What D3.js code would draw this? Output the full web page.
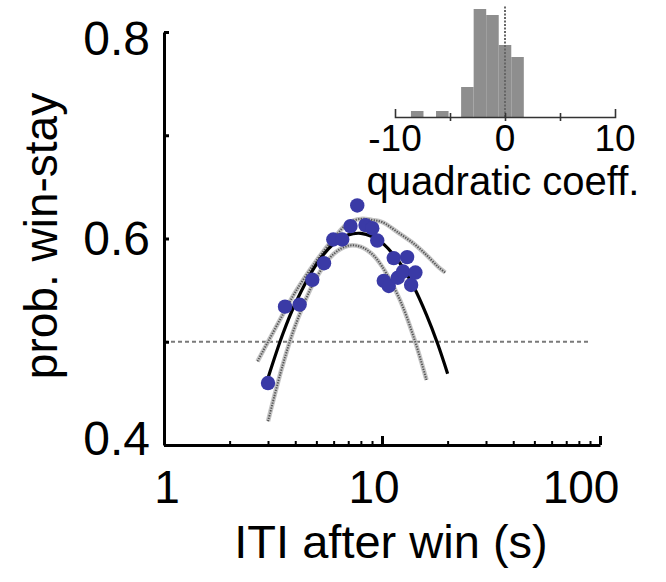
<!DOCTYPE html>
<html>
<head>
<meta charset="utf-8">
<script src="https://cdn.jsdelivr.net/npm/d3@7"></script>
<style>
  body { margin: 0; background: #fff; }
  svg text { font-family: "Liberation Sans", Arial, Helvetica, sans-serif; fill: #000; }
</style>
</head>
<body>
<div id="chart"></div>
<script>
'use strict';

// mean win-stay per ITI bin
var itiSec  = [3.00, 3.59, 4.19, 4.79, 5.42, 5.98, 6.57, 7.17, 7.70, 8.40,
               9.02, 9.51, 10.19, 10.74, 11.32, 11.81, 12.50, 13.04, 13.60, 14.23];
var winStay = [0.460, 0.534, 0.536, 0.560, 0.576, 0.599, 0.599, 0.612, 0.632, 0.613,
               0.610, 0.598, 0.559, 0.554, 0.581, 0.562, 0.568, 0.582, 0.555, 0.567];

// quadratic fit (black) and its bounds (grey)
var fitIti   = [3.0, 3.5, 4, 5, 6, 7, 8, 9, 10, 12, 14, 16, 18, 20];
var fitMid   = [0.465, 0.507, 0.537, 0.575, 0.595, 0.6035, 0.605, 0.602, 0.596, 0.577, 0.553, 0.526, 0.498, 0.469];
var upperIti = [2.685, 3.0, 3.5, 4, 5, 6, 7, 8, 9, 10, 12, 14, 16, 18, 19.5];
var upperFit = [0.481, 0.500, 0.526, 0.548, 0.5785, 0.600, 0.615, 0.619, 0.618, 0.616, 0.605, 0.595, 0.584, 0.573, 0.567];
var lowerIti = [3.0, 3.5, 4, 5, 6, 7, 8, 9, 10, 12, 14, 16];
var lowerFit = [0.423, 0.477, 0.5155, 0.562, 0.585, 0.593, 0.592, 0.585, 0.573, 0.542, 0.504, 0.463];

var chanceLevel = 0.5;
var chanceIti = [1, 90];

var xTicks = [1, 10, 100];
var xMinorTicks = [2, 3, 4, 5, 6, 7, 8, 9, 20, 30, 40, 50, 60, 70, 80, 90];
var yTicks = [0.4, 0.5, 0.6, 0.7, 0.8];
var yTickLabels = [0.4, 0.6, 0.8];

// inset: histogram of quadratic coefficients across subjects
var coeffBins   = [-7.98, -6.84, -5.70, -4.56, -3.42, -2.28, -1.14, 0, 1.14];
var coeffCounts = [1, 0, 1, 0, 5, 18, 17, 12, 10];
var binWidth = 1.14;
var insetTicks = [-10, -5, 0, 5, 10];
var insetTickLabels = [-10, 0, 10];

var width = 666, height = 582;

var svg = d3.select('#chart').append('svg')
  .attr('width', width)
  .attr('height', height);

var x = d3.scaleLog().domain([1, 100]).range([164, 600]);
var y = d3.scaleLinear().domain([0.4, 0.8]).range([445, 32]);
// label positions in the figure sit a bit inside the tick positions
var xLab = d3.scaleLog().domain([1, 100]).range([167, 581]);
var yLab = d3.scaleLinear().domain([0.4, 0.8]).range([438, 37.5]);

// chance line
svg.append('line')
  .attr('x1', x(chanceIti[0])).attr('x2', x(chanceIti[1]))
  .attr('y1', y(chanceLevel)).attr('y2', y(chanceLevel))
  .attr('stroke', '#7a7a7a').attr('stroke-width', 2)
  .attr('stroke-dasharray', '4,3');

var line = d3.line()
  .x(function (d) { return x(d[0]); })
  .y(function (d) { return y(d[1]); })
  .curve(d3.curveCatmullRom);

function drawBound(xs, ys) {
  var pts = d3.zip(xs, ys);
  svg.append('path').datum(pts)
    .attr('d', line).attr('fill', 'none')
    .attr('stroke', '#c4c4c4').attr('stroke-width', 4.5);
  svg.append('path').datum(pts)
    .attr('d', line).attr('fill', 'none')
    .attr('stroke', '#555').attr('stroke-width', 2)
    .attr('stroke-dasharray', '1.3,1.3');
}
drawBound(upperIti, upperFit);
drawBound(lowerIti, lowerFit);

svg.append('path').datum(d3.zip(fitIti, fitMid))
  .attr('d', line).attr('fill', 'none')
  .attr('stroke', '#000').attr('stroke-width', 3.2);

svg.append('g').selectAll('circle')
  .data(d3.zip(itiSec, winStay))
  .enter().append('circle')
  .attr('cx', function (d) { return x(d[0]); })
  .attr('cy', function (d) { return y(d[1]); })
  .attr('r', 7.2)
  .attr('fill', '#3a3aa6');

// axes
var xAxis = svg.append('g')
  .attr('transform', 'translate(0,' + y(0.4) + ')')
  .call(d3.axisBottom(x).tickValues(xTicks).tickSizeInner(-9).tickSizeOuter(0).tickFormat(''));
var xMinor = svg.append('g')
  .attr('transform', 'translate(0,' + y(0.4) + ')')
  .call(d3.axisBottom(x).tickValues(xMinorTicks).tickSizeInner(-4).tickSizeOuter(0).tickFormat(''));
xMinor.select('.domain').remove();

var yAxis = svg.append('g')
  .attr('transform', 'translate(' + x(1) + ',0)')
  .call(d3.axisLeft(y).tickValues(yTicks).tickSizeInner(-5).tickSizeOuter(0).tickFormat(''));

[xAxis, xMinor, yAxis].forEach(function (g) {
  g.selectAll('path, line').attr('stroke', '#000').attr('stroke-width', 3);
});
xMinor.selectAll('line').attr('stroke-width', 2);

svg.append('g').selectAll('text')
  .data(xTicks).enter().append('text')
  .attr('x', function (d) { return xLab(d); })
  .attr('y', 503)
  .attr('text-anchor', 'middle')
  .style('font-size', '46px')
  .text(function (d) { return d; });

svg.append('g').selectAll('text')
  .data(yTickLabels).enter().append('text')
  .attr('x', 150)
  .attr('y', function (d) { return yLab(d); })
  .attr('dy', '0.36em')
  .attr('text-anchor', 'end')
  .style('font-size', '48px')
  .text(function (d) { return d3.format('.1f')(d); });

svg.append('text')
  .attr('x', 391).attr('y', 558)
  .attr('text-anchor', 'middle')
  .style('font-size', '47px')
  .text('ITI after win (s)');

svg.append('text')
  .attr('transform', 'translate(57,236) rotate(-90)')
  .attr('text-anchor', 'middle')
  .style('font-size', '46px')
  .text('prob. win-stay');

// inset histogram
var ix = d3.scaleLinear().domain([-10, 10]).range([395, 615]);
var iy = d3.scaleLinear().domain([0, 18]).range([117, 9]);

svg.append('g').selectAll('rect')
  .data(d3.zip(coeffBins, coeffCounts)).enter().append('rect')
  .attr('x', function (d) { return ix(d[0] - binWidth / 2); })
  .attr('width', function (d) { return ix(d[0] + binWidth / 2) - ix(d[0] - binWidth / 2); })
  .attr('y', function (d) { return iy(d[1]); })
  .attr('height', function (d) { return iy(0) - iy(d[1]); })
  .attr('fill', '#8e8e8e');

svg.append('line')
  .attr('x1', ix(0)).attr('x2', ix(0))
  .attr('y1', iy(0)).attr('y2', iy(18.4))
  .attr('stroke', '#666').attr('stroke-width', 2)
  .attr('stroke-dasharray', '2,1.5');

var insetAxis = svg.append('g')
  .attr('transform', 'translate(0,' + iy(0) + ')')
  .call(d3.axisBottom(ix).tickValues(insetTicks.slice(1, -1)).tickSizeInner(4).tickSizeOuter(-8).tickFormat(''));
insetAxis.selectAll('line').attr('y1', -4);
insetAxis.selectAll('path, line').attr('stroke', '#333').attr('stroke-width', 1.6);

svg.append('g').selectAll('text')
  .data(insetTickLabels).enter().append('text')
  .attr('x', function (d) { return ix(d); })
  .attr('y', 151)
  .attr('text-anchor', 'middle')
  .style('font-size', '37px')
  .text(function (d) { return d; });

svg.append('text')
  .attr('x', 503).attr('y', 195)
  .attr('text-anchor', 'middle')
  .style('font-size', '40px')
  .text('quadratic coeff.');
</script>
</body>
</html>
